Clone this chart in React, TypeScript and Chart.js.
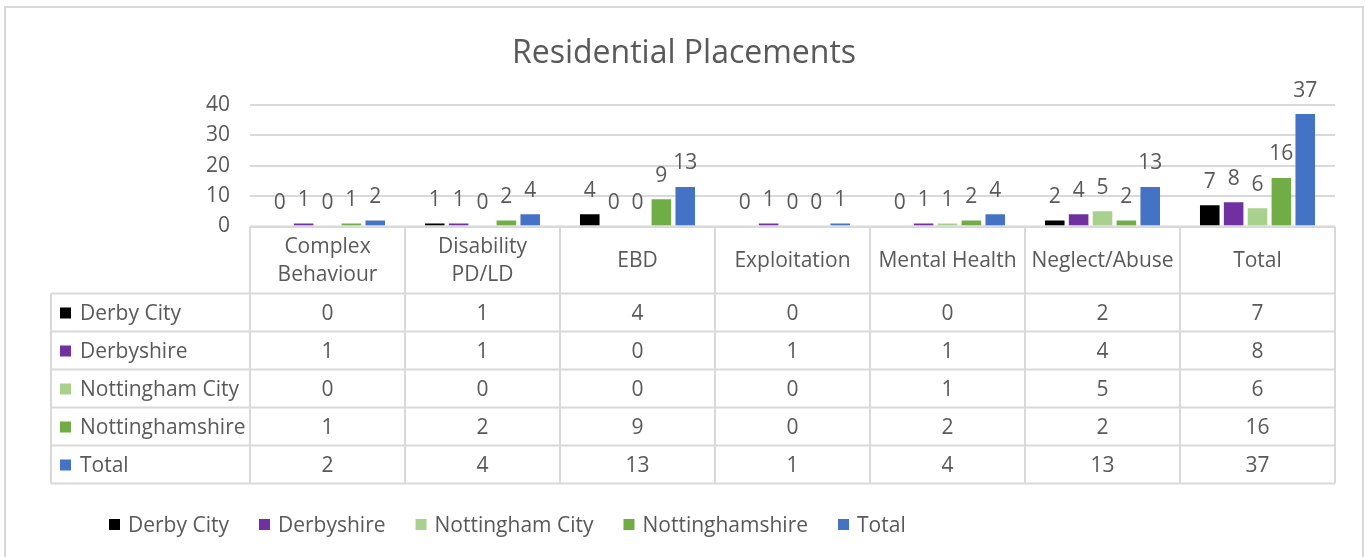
import React, { useEffect, useRef } from "react";
import { Chart, registerables } from "chart.js";

Chart.register(...registerables);

const chartTitle = "Residential Placements";
const categories: (string | string[])[] = [
  ["Complex", "Behaviour"],
  ["Disability", "PD/LD"],
  "EBD",
  "Exploitation",
  "Mental Health",
  "Neglect/Abuse",
  "Total",
];
const seriesNames = ["Derby City", "Derbyshire", "Nottingham City", "Nottinghamshire", "Total"];
const derbyCity = [0, 1, 4, 0, 0, 2, 7];
const derbyshire = [1, 1, 0, 1, 1, 4, 8];
const nottinghamCity = [0, 0, 0, 0, 1, 5, 6];
const nottinghamshire = [1, 2, 9, 0, 2, 2, 16];
const total = [2, 4, 13, 1, 4, 13, 37];
const seriesColors = ["#000000", "#7030a0", "#a9d18e", "#70ad47", "#4472c4"];
const yMin = 0;
const yMax = 40;
const yStep = 10;

const FONT = "'Open Sans', sans-serif";
const TEXT = "#595959";
const LINE = "#d9d9d9";
const MID = 1.5; // optical shift for middle-baseline text

const W = 1366;
const H = 557;

const excelPlugin = {
  id: "excelLook",
  afterDatasetsDraw(chart: any) {
    const ctx = chart.ctx;
    ctx.save();
    ctx.font = `21px ${FONT}`;
    ctx.fillStyle = TEXT;
    ctx.textAlign = "center";
    ctx.textBaseline = "middle";
    chart.data.datasets.forEach((ds: any, di: number) => {
      const meta = chart.getDatasetMeta(di);
      meta.data.forEach((bar: any, i: number) => {
        ctx.fillText(String(ds.data[i]), bar.x, bar.y - 25 + MID);
      });
    });
    ctx.restore();
  },
  afterDraw(chart: any) {
    const { ctx, chartArea, scales } = chart;
    const xs = scales.x;
    const labels = chart.data.labels as (string | string[])[];
    const datasets = chart.data.datasets;
    const n = labels.length;
    const colW = xs.getPixelForValue(1) - xs.getPixelForValue(0);
    const left = xs.getPixelForValue(0) - colW / 2;
    const right = xs.getPixelForValue(n - 1) + colW / 2;
    const top0 = chartArea.bottom;
    const headerH = 67;
    const rowH = 38;
    const tableLeft = 51;
    const headerBottom = top0 + headerH;
    const tableBottom = headerBottom + datasets.length * rowH;

    ctx.save();
    // outer border
    ctx.strokeStyle = LINE;
    ctx.lineWidth = 2;
    ctx.strokeRect(5, 7, 1358, 570);

    // title
    ctx.fillStyle = TEXT;
    ctx.font = `32px ${FONT}`;
    ctx.textAlign = "center";
    ctx.textBaseline = "alphabetic";
    ctx.fillText(chartTitle, 684, 63);

    // table lines
    const seg = (x1: number, y1: number, x2: number, y2: number) => {
      ctx.beginPath();
      ctx.moveTo(x1, y1);
      ctx.lineTo(x2, y2);
      ctx.stroke();
    };
    ctx.strokeStyle = LINE;
    ctx.lineWidth = 2;
    seg(left, top0, right, top0);
    for (let r = 0; r <= datasets.length; r++) {
      const y = headerBottom + r * rowH;
      seg(tableLeft, y, right, y);
    }
    seg(tableLeft, headerBottom, tableLeft, tableBottom);
    for (let i = 0; i <= n; i++) {
      const x = left + i * colW;
      seg(x, top0, x, tableBottom);
    }

    // header labels
    ctx.font = `21px ${FONT}`;
    ctx.fillStyle = TEXT;
    ctx.textAlign = "center";
    ctx.textBaseline = "middle";
    const hc = top0 + headerH / 2 + MID;
    labels.forEach((lab, i) => {
      const lines = Array.isArray(lab) ? lab : [lab];
      const cx = xs.getPixelForValue(i);
      lines.forEach((ln, k) => {
        ctx.fillText(ln, cx, hc + (k - (lines.length - 1) / 2) * 28);
      });
    });

    // rows
    datasets.forEach((ds: any, r: number) => {
      const cy = headerBottom + r * rowH + rowH / 2;
      ctx.fillStyle = ds.backgroundColor;
      ctx.fillRect(60, cy - 5, 11, 11);
      ctx.fillStyle = TEXT;
      ctx.textAlign = "left";
      ctx.fillText(ds.label, 80, cy + MID);
      ctx.textAlign = "center";
      ds.data.forEach((v: number, i: number) => {
        ctx.fillText(String(v), xs.getPixelForValue(i), cy + MID);
      });
    });

    // legend
    let lx = 109;
    const ly = 525;
    ctx.textAlign = "left";
    datasets.forEach((ds: any) => {
      ctx.fillStyle = ds.backgroundColor;
      ctx.fillRect(lx, ly - 6, 11, 11);
      ctx.fillStyle = TEXT;
      ctx.fillText(ds.label, lx + 19, ly + MID);
      lx += 19 + ctx.measureText(ds.label).width + 30;
    });
    ctx.restore();
  },
};

export default function App() {
  const ref = useRef<HTMLCanvasElement | null>(null);
  useEffect(() => {
    if (!ref.current) return;
    const values = [derbyCity, derbyshire, nottinghamCity, nottinghamshire, total];
    const chart = new Chart(ref.current, {
      type: "bar",
      data: {
        labels: categories,
        datasets: seriesNames.map((name, i) => ({
          label: name,
          data: values[i],
          backgroundColor: seriesColors[i],
          borderWidth: 0,
          categoryPercentage: 0.77,
          barPercentage: 0.82,
        })),
      },
      options: {
        responsive: false,
        animation: false,
        devicePixelRatio: 1,
        events: [],
        layout: { padding: { left: 200, right: 31, top: 105, bottom: 330.5 } },
        plugins: {
          legend: { display: false },
          title: { display: false },
          tooltip: { enabled: false },
        },
        scales: {
          x: { display: false },
          y: {
            min: yMin,
            max: yMax,
            ticks: {
              stepSize: yStep,
              padding: 20,
              color: TEXT,
              font: { family: FONT, size: 21 },
            },
            grid: { color: LINE, lineWidth: 2, drawTicks: false },
            border: { display: false },
            afterFit: (s: any) => {
              s.width = 50;
            },
          },
        },
      },
      plugins: [excelPlugin],
    });
    return () => chart.destroy();
  }, []);
  return (
    <div style={{ position: "fixed", left: 0, top: 0, width: W, height: H, background: "#fff" }}>
      <canvas ref={ref} width={W} height={H} style={{ display: "block" }} />
    </div>
  );
}
